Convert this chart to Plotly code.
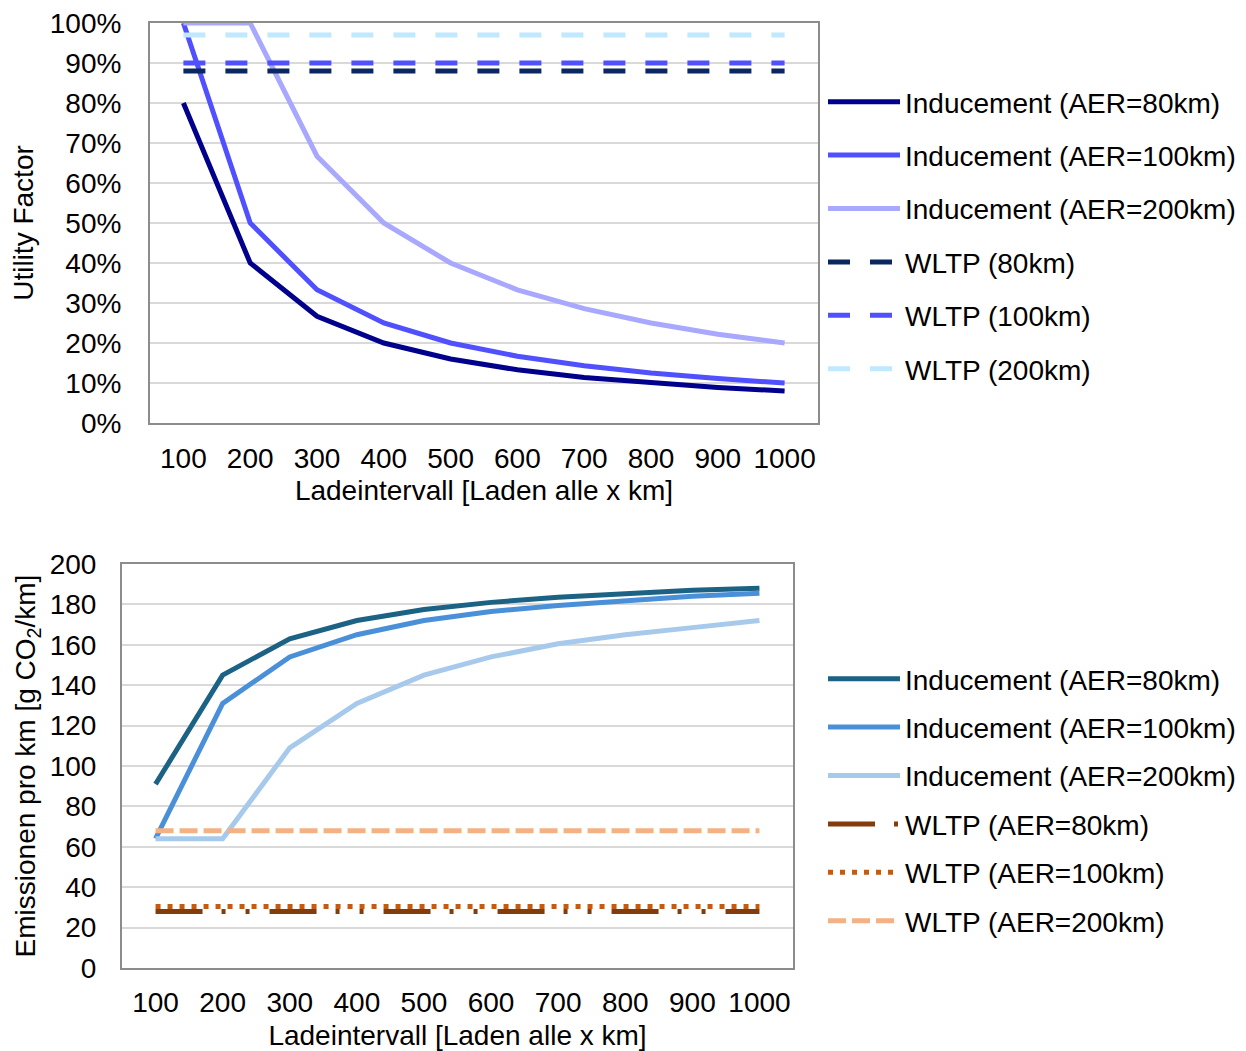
import plotly.graph_objects as go

# page is shown with an 8px body margin, so the figure is drawn 8px smaller
OFF = 8
W, H = 1246 - OFF, 1051 - OFF

# ---------------- data ----------------
x_labels = ["100", "200", "300", "400", "500", "600", "700", "800", "900", "1000"]

# top chart: utility factor
uf_ind_80 = [0.80, 0.40, 0.267, 0.20, 0.16, 0.133, 0.114, 0.10, 0.089, 0.08]
uf_ind_100 = [1.00, 0.50, 0.333, 0.25, 0.20, 0.167, 0.143, 0.125, 0.111, 0.10]
uf_ind_200 = [1.00, 1.00, 0.667, 0.50, 0.40, 0.333, 0.286, 0.25, 0.222, 0.20]
uf_wltp_80 = [0.88, 0.88, 0.88, 0.88, 0.88, 0.88, 0.88, 0.88, 0.88, 0.88]
uf_wltp_100 = [0.90, 0.90, 0.90, 0.90, 0.90, 0.90, 0.90, 0.90, 0.90, 0.90]
uf_wltp_200 = [0.97, 0.97, 0.97, 0.97, 0.97, 0.97, 0.97, 0.97, 0.97, 0.97]

# bottom chart: emissions g CO2/km
em_ind_80 = [91, 145, 163, 172, 177.5, 181, 183.5, 185.5, 187, 188]
em_ind_100 = [64, 131, 154, 165, 172, 176.5, 179.5, 182, 184, 185.5]
em_ind_200 = [64, 64, 109, 131, 145, 154, 160.5, 165, 168.5, 172]
em_wltp_80 = [28, 28, 28, 28, 28, 28, 28, 28, 28, 28]
em_wltp_100 = [30.5, 30.5, 30.5, 30.5, 30.5, 30.5, 30.5, 30.5, 30.5, 30.5]
em_wltp_200 = [68, 68, 68, 68, 68, 68, 68, 68, 68, 68]

top_names = ["Inducement (AER=80km)", "Inducement (AER=100km)", "Inducement (AER=200km)",
             "WLTP (80km)", "WLTP (100km)", "WLTP (200km)"]
bot_names = ["Inducement (AER=80km)", "Inducement (AER=100km)", "Inducement (AER=200km)",
             "WLTP (AER=80km)", "WLTP (AER=100km)", "WLTP (AER=200km)"]

# ---------------- styles ----------------
FONT = "Arial, Liberation Sans, sans-serif"
FS = 28
top_styles = [
    dict(color="#00008c", width=5, dash="solid"),
    dict(color="#5050ff", width=5, dash="solid"),
    dict(color="#a8a8ff", width=5, dash="solid"),
    dict(color="#0b2762", width=5, dash="22px,20px"),
    dict(color="#5050ff", width=5, dash="22px,20px"),
    dict(color="#c0e8ff", width=5, dash="22px,20px"),
]
bot_styles = [
    dict(color="#1c6285", width=5, dash="solid"),
    dict(color="#4a90d9", width=5, dash="solid"),
    dict(color="#a7caec", width=5, dash="solid"),
    dict(color="#843c0c", width=5, dash="47px,19px,4px,20px,4px,20px"),
    dict(color="#c55a11", width=5, dash="5px,7px"),
    dict(color="#f4b183", width=5, dash="18px,6px"),
]

fig = go.Figure()

top_series = [uf_ind_80, uf_ind_100, uf_ind_200, uf_wltp_80, uf_wltp_100, uf_wltp_200]
for i, (name, ys, st) in enumerate(zip(top_names, top_series, top_styles)):
    fig.add_trace(go.Scatter(x=x_labels, y=ys, name=name, mode="lines", line=st,
                             xaxis="x", yaxis="y", legend="legend",
                             legendgroup=f"t{i}", cliponaxis=False))

bot_series = [em_ind_80, em_ind_100, em_ind_200, em_wltp_80, em_wltp_100, em_wltp_200]
for i, (name, ys, st) in enumerate(zip(bot_names, bot_series, bot_styles)):
    fig.add_trace(go.Scatter(x=x_labels, y=ys, name=name, mode="lines", line=st,
                             xaxis="x2", yaxis="y2", legend="legend2",
                             legendgroup=f"b{i}", cliponaxis=False))

# convert page pixel positions to paper fractions
def px_x(p):
    return (p - OFF) / W

def px_y(p):
    return 1 - (p - OFF) / H

axis_common = dict(showline=True, mirror=True, linecolor="#8c8c8c", linewidth=2,
                   layer="below traces", ticks="", zeroline=False, automargin=False,
                   ticklabeloverflow="allow",
                   tickfont=dict(family=FONT, size=FS, color="black"))

legend_common = dict(xanchor="left", yanchor="top", bgcolor="rgba(0,0,0,0)",
                     font=dict(family=FONT, size=FS), traceorder="grouped",
                     itemwidth=72)

fig.update_layout(
    width=W, height=H,
    margin=dict(l=0, r=0, t=0, b=0, autoexpand=False),
    paper_bgcolor="white", plot_bgcolor="white",
    font=dict(family=FONT, size=FS, color="black"),
    xaxis=dict(domain=[px_x(150), px_x(818)], anchor="y", type="category",
               range=[-0.5, 9.5], showgrid=False, ticklabelstandoff=9,
               title=dict(text="Ladeintervall [Laden alle x km]", standoff=8,
                          font=dict(family=FONT, size=FS)),
               **axis_common),
    yaxis=dict(domain=[px_y(423), px_y(23)], anchor="x", range=[0, 1], dtick=0.1,
               tickformat=".0%", showgrid=True, gridcolor="#d9d9d9", gridwidth=1.5,
               ticklabelstandoff=21,
               title=dict(text="Utility Factor", standoff=8,
                          font=dict(family=FONT, size=FS)),
               **axis_common),
    xaxis2=dict(domain=[px_x(122), px_x(793)], anchor="y2", type="category",
                range=[-0.5, 9.5], showgrid=False, ticklabelstandoff=8,
                title=dict(text="Ladeintervall [Laden alle x km]", standoff=12,
                           font=dict(family=FONT, size=FS)),
                **axis_common),
    yaxis2=dict(domain=[px_y(968), px_y(564)], anchor="x2", range=[0, 200], dtick=20,
                showgrid=True, gridcolor="#d9d9d9", gridwidth=1.5,
                ticklabelstandoff=18,
                title=dict(text="Emissionen pro km [g CO<sub>2</sub>/km]", standoff=6,
                           font=dict(family=FONT, size=FS)),
                **axis_common),
    legend=dict(x=px_x(823), y=px_y(77), tracegroupgap=14, **legend_common),
    legend2=dict(x=px_x(823), y=px_y(654), tracegroupgap=9, **legend_common),
    showlegend=True,
)

fig.write_html("out.html")
